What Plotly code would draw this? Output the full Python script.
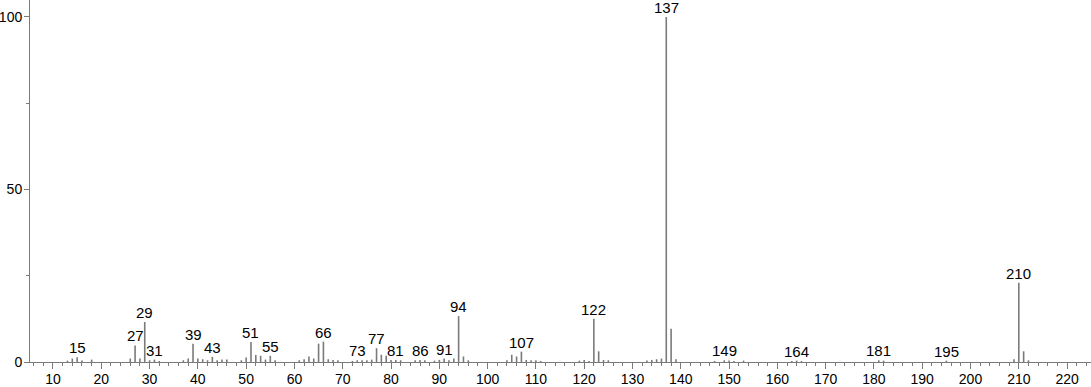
import plotly.graph_objects as go

# m/z values and relative intensities (%)
mz = [13, 14, 15, 16, 18, 26, 27, 28, 29, 30, 31, 32,
      37, 38, 39, 40, 41, 42, 43, 44, 45, 46,
      49, 50, 51, 52, 53, 54, 55, 56,
      61, 62, 63, 64, 65, 66, 67, 68, 69,
      72, 73, 74, 75, 76, 77, 78, 79, 80, 81, 82,
      85, 86, 87, 89, 90, 91, 92, 93, 94, 95, 96,
      104, 105, 106, 107, 108, 109, 110, 111,
      119, 120, 121, 122, 123, 124, 125,
      133, 134, 135, 136, 137, 138, 139,
      147, 149, 150, 151, 153, 163, 164, 165,
      181, 182, 195, 209, 210, 211, 212]
intensity = [0.4, 1.0, 1.4, 0.4, 0.7, 1.0, 4.8, 1.0, 11.6, 0.5, 0.7, 0.3,
             0.5, 1.0, 5.3, 1.0, 0.8, 0.5, 1.5, 0.5, 0.7, 0.7,
             0.5, 1.3, 5.8, 2.0, 1.8, 0.7, 1.8, 0.5,
             0.5, 0.8, 1.6, 1.0, 5.3, 5.9, 0.8, 0.6, 0.5,
             0.3, 0.5, 0.5, 0.5, 0.7, 4.0, 2.1, 1.8, 0.6, 0.6, 0.5,
             0.5, 0.6, 0.5, 0.4, 0.6, 1.0, 0.5, 1.0, 13.3, 1.6, 0.5,
             0.5, 2.1, 1.6, 3.0, 0.6, 0.5, 0.5, 0.3,
             0.4, 0.6, 0.3, 12.5, 3.1, 0.6, 0.5,
             0.4, 0.6, 0.8, 1.0, 100.0, 9.6, 0.8,
             0.3, 0.5, 0.4, 0.3, 0.4, 0.3, 0.4, 0.3,
             0.5, 0.4, 0.4, 0.8, 23.0, 3.1, 0.5]
labeled = [15, 27, 29, 31, 39, 43, 51, 55, 66, 73, 77, 81, 86, 91, 94,
           107, 122, 137, 149, 164, 181, 195, 210]

xs, ys = [], []
for m, v in zip(mz, intensity):
    xs += [m, m, None]
    ys += [0, v, None]

fig = go.Figure()
fig.add_trace(go.Scatter(x=xs, y=ys, mode="lines",
                         line=dict(color="#7a7a7a", width=1.6),
                         hoverinfo="skip", showlegend=False))

FONT = "Liberation Sans, Arial, sans-serif"
lookup = dict(zip(mz, intensity))
for m in labeled:
    fig.add_annotation(x=m, y=lookup[m], text=str(m), showarrow=False,
                       yanchor="bottom", yshift=-1,
                       font=dict(size=15, color="#000000", family=FONT))

axis_font = dict(size=14, color="#000000", family=FONT)
fig.update_layout(
    width=1091, height=387,
    margin=dict(l=30, r=0, t=0, b=25),
    paper_bgcolor="white", plot_bgcolor="white",
    showlegend=False,
    xaxis=dict(range=[5.24, 224.95], tick0=0, dtick=10, ticks="outside",
               ticklen=6, tickwidth=1, tickcolor="#7a7a7a",
               showline=True, linecolor="#7a7a7a", linewidth=1,
               showgrid=False, zeroline=False, tickfont=axis_font,
               ticklabelstandoff=-2,
               minor=dict(dtick=2, ticklen=3, tickcolor="#7a7a7a",
                          ticks="outside", showgrid=False)),
    yaxis=dict(range=[0, 104.9], tick0=0, dtick=50, ticks="outside",
               ticklen=5, tickwidth=1, tickcolor="#7a7a7a",
               showline=True, linecolor="#7a7a7a", linewidth=1,
               showgrid=False, zeroline=False, tickfont=axis_font,
               ticklabelstandoff=-1,
               minor=dict(dtick=25, ticklen=3, tickcolor="#7a7a7a",
                          ticks="outside", showgrid=False)),
)

fig.write_html("out.html")
